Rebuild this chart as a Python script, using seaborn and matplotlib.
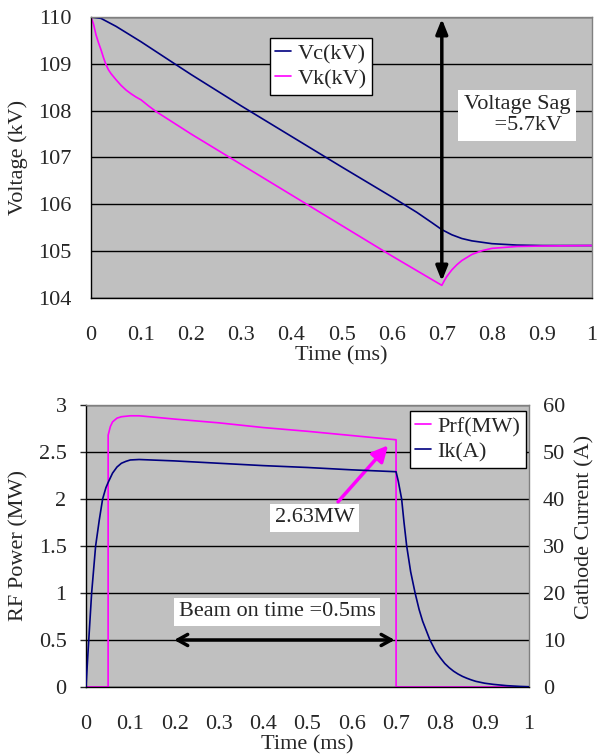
import numpy as np
import pandas as pd
import matplotlib
matplotlib.use('Agg')
import matplotlib.pyplot as plt
import seaborn as sns
from matplotlib.ticker import FuncFormatter

# top chart: voltages (kV) vs time (ms)
t_vc = [0, 0.02, 0.05, 0.1, 0.167, 0.2, 0.3, 0.4, 0.5, 0.6, 0.65, 0.68, 0.7, 0.72, 0.74, 0.76,
        0.8, 0.85, 0.9, 1.0]
vc = [110, 109.97, 109.8, 109.47, 109.0, 108.77, 108.1, 107.45, 106.8, 106.16, 105.83, 105.61,
      105.46, 105.35, 105.27, 105.22, 105.16, 105.13, 105.12, 105.12]

t_vk = [0, 0.005, 0.01, 0.015, 0.02, 0.025, 0.03, 0.035, 0.04, 0.05, 0.06, 0.07, 0.08, 0.09, 0.1,
        0.115, 0.13, 0.2, 0.3, 0.4, 0.5, 0.6, 0.7, 0.705, 0.71, 0.72, 0.73, 0.74, 0.76, 0.78, 0.8,
        0.85, 0.9, 1.0]
vk = [110, 109.85, 109.62, 109.45, 109.3, 109.13, 108.98, 108.87, 108.79, 108.66, 108.54, 108.44,
      108.36, 108.29, 108.23, 108.1, 107.98, 107.5, 106.85, 106.2, 105.55, 104.9, 104.27, 104.37,
      104.46, 104.6, 104.71, 104.8, 104.93, 105.01, 105.06, 105.1, 105.11, 105.12]

# bottom chart: RF power (MW) and cathode current (A)
t_prf = [0, 0.05, 0.0501, 0.055, 0.06, 0.07, 0.08, 0.1, 0.12, 0.2, 0.3, 0.4, 0.5, 0.6, 0.7, 0.7001, 1.0]
prf = [0, 0, 2.68, 2.77, 2.82, 2.86, 2.875, 2.885, 2.885, 2.85, 2.81, 2.76, 2.72, 2.675, 2.63, 0, 0]

t_ik = [0, 0.005, 0.0128, 0.0218, 0.03, 0.0376, 0.045, 0.05, 0.06, 0.07, 0.08, 0.09, 0.1, 0.12, 0.2,
        0.3, 0.4, 0.5, 0.6, 0.7, 0.705, 0.7126, 0.718, 0.724, 0.733, 0.743, 0.752, 0.76, 0.7765,
        0.79, 0.8, 0.81, 0.82, 0.83, 0.84, 0.85, 0.86, 0.87, 0.88, 0.9, 0.92, 0.95, 0.98, 1.0]
ik = [0, 8, 20, 30, 35.5, 40, 42.4, 43.5, 45.5, 46.8, 47.6, 48.0, 48.3, 48.4, 48.1, 47.6, 47.1,
      46.7, 46.2, 45.8, 43.8, 40, 35, 30, 24.5, 20, 16.5, 14, 10, 7.5, 6.2, 5.0, 4.1, 3.35, 2.75,
      2.25, 1.85, 1.5, 1.2, 0.8, 0.55, 0.28, 0.12, 0.05]

x_ticks = [0, 0.1, 0.2, 0.3, 0.4, 0.5, 0.6, 0.7, 0.8, 0.9, 1.0]

NAVY = '#000080'
MAGENTA = '#FF00FF'
BG = '#C0C0C0'
FS = 16

sns.set_style('white')
plt.rcParams['font.family'] = ['Liberation Serif', 'DejaVu Serif']
plt.rcParams['font.size'] = FS

fmt = FuncFormatter(lambda v, p: '%g' % round(v, 6))

fig = plt.figure(figsize=(5.97, 7.55), dpi=100)


def style_axes(ax):
    ax.set_facecolor(BG)
    ax.grid(axis='y', color='black', linewidth=1.0)
    ax.grid(axis='x', visible=False)
    ax.set_axisbelow(True)
    ax.spines['left'].set_color('black')
    ax.spines['bottom'].set_color('black')
    ax.spines['top'].set_color('#808080')
    ax.spines['right'].set_color('#808080')
    for s in ax.spines.values():
        s.set_linewidth(1.0)
    ax.tick_params(axis='x', direction='in', length=6, width=1, pad=20, labelsize=FS)
    ax.tick_params(axis='y', direction='out', length=4, width=1, pad=10, labelsize=FS)
    ax.set_xlim(0, 1)
    ax.set_xticks(x_ticks)
    ax.xaxis.set_major_formatter(fmt)
    ax.yaxis.set_major_formatter(fmt)


# ---- top chart
ax1 = fig.add_axes([0.1524, 0.6053, 0.8395, 0.3722])
style_axes(ax1)
sns.lineplot(x=t_vc, y=vc, ax=ax1, color=NAVY, linewidth=1.2, label='Vc(kV)', estimator=None)
sns.lineplot(x=t_vk, y=vk, ax=ax1, color=MAGENTA, linewidth=1.2, label='Vk(kV)', estimator=None)
ax1.set_ylim(104, 110)
ax1.set_yticks([104, 105, 106, 107, 108, 109, 110])
ax1.set_xlabel('Time (ms)', fontsize=FS, labelpad=1)
ax1.set_ylabel('Voltage (kV)', fontsize=FS, labelpad=7)
leg1 = ax1.legend(loc='upper left', bbox_to_anchor=(0.357, 0.925), borderaxespad=0,
                  fancybox=False, framealpha=1, edgecolor='black', handlelength=0.7,
                  handletextpad=0.3, borderpad=0.25, labelspacing=0.2, fontsize=FS)
leg1.get_frame().set_linewidth(1.0)

ax1.annotate('', xy=(0.7, 109.96), xytext=(0.7, 104.36),
             arrowprops=dict(arrowstyle='<|-|>,head_length=0.55,head_width=0.22',
                             color='black', lw=2.5, shrinkA=0, shrinkB=0))
ax1.text(0.85, 107.9, 'Voltage Sag\n    =5.7kV', ha='center', va='center', fontsize=FS,
         linespacing=1.15,
         bbox=dict(facecolor='white', edgecolor='none', boxstyle='square,pad=0.25'))

# ---- bottom chart
ax = fig.add_axes([0.144, 0.0901, 0.742, 0.3735])
style_axes(ax)
sns.lineplot(x=t_prf, y=prf, ax=ax, color=MAGENTA, linewidth=1.2, estimator=None, sort=False)
ax.set_ylim(0, 3)
ax.set_yticks([0, 0.5, 1, 1.5, 2, 2.5, 3])
ax.set_xlabel('Time (ms)', fontsize=FS, labelpad=1)
ax.set_ylabel('RF Power (MW)', fontsize=FS, labelpad=7)

ax2 = ax.twinx()
ax2.set_facecolor('none')
sns.lineplot(x=t_ik, y=ik, ax=ax2, color=NAVY, linewidth=1.2, estimator=None, sort=False)
ax2.set_ylim(0, 60)
ax2.set_yticks([0, 10, 20, 30, 40, 50, 60])
ax2.yaxis.set_major_formatter(fmt)
ax2.grid(False)
for s in ax2.spines.values():
    s.set_visible(False)
ax2.tick_params(axis='y', direction='in', length=0, pad=10, labelsize=FS)
ax2.set_ylabel('Cathode Current (A)', fontsize=FS)
ax2.yaxis.set_label_coords(1.105, 0.567)

handles = [plt.Line2D([], [], color=MAGENTA, lw=1.2), plt.Line2D([], [], color=NAVY, lw=1.2)]
leg2 = ax2.legend(handles, ['Prf(MW)', 'Ik(A)'], loc='upper left', bbox_to_anchor=(0.731, 0.979),
                  borderaxespad=0, fancybox=False, framealpha=1, edgecolor='black',
                  handlelength=0.7, handletextpad=0.3, borderpad=0.25, labelspacing=0.2,
                  fontsize=FS)
leg2.get_frame().set_linewidth(1.0)

ax.annotate('', xy=(0.682, 2.57), xytext=(0.569, 1.97),
            arrowprops=dict(arrowstyle='-|>,head_length=0.6,head_width=0.3',
                            color=MAGENTA, lw=2.5, shrinkA=0, shrinkB=0))
ax.text(0.516, 1.80, '2.63MW', ha='center', va='center', fontsize=FS,
        bbox=dict(facecolor='white', edgecolor='none', boxstyle='square,pad=0.2'))

ax.annotate('', xy=(0.199, 0.5), xytext=(0.697, 0.5),
            arrowprops=dict(arrowstyle='<->,head_length=0.45,head_width=0.25',
                            color='black', lw=2.5, shrinkA=0, shrinkB=0))
ax.text(0.431, 0.80, 'Beam on time =0.5ms', ha='center', va='center', fontsize=FS,
        bbox=dict(facecolor='white', edgecolor='none', boxstyle='square,pad=0.2'))

fig.savefig('out.png', dpi=100)
